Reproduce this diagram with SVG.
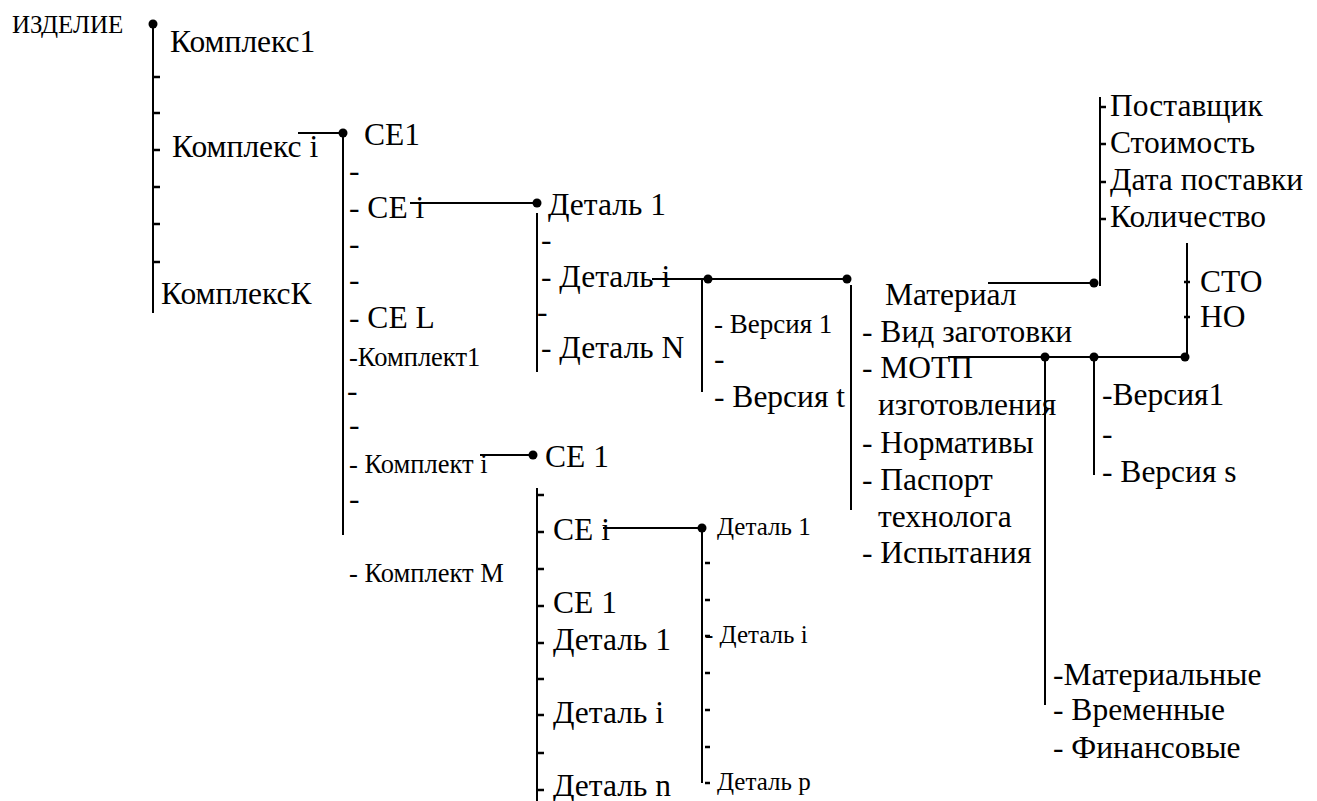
<svg xmlns="http://www.w3.org/2000/svg" width="1317" height="801" viewBox="0 0 1317 801" font-family="'Liberation Serif','Times New Roman','DejaVu Serif',serif">
<style>
text{font-family:"Liberation Serif","Times New Roman","DejaVu Serif",serif;fill:#000}
.L{font-size:31.5px}
.S{font-size:26.5px}
.M{font-size:27px}
.X{font-size:25px}
line{stroke:#000;stroke-width:2;fill:none}
.t line{stroke-width:2.5}
circle{fill:#000}
</style>
<rect width="1317" height="801" fill="#fff"/>
<g id="connectors">
<line x1="153" y1="24" x2="153" y2="313"/>
<line x1="298" y1="133" x2="343" y2="133"/>
<line x1="343" y1="133" x2="343" y2="535"/>
<line x1="410" y1="203" x2="537" y2="203"/>
<line x1="537" y1="213" x2="537" y2="372"/>
<line x1="652" y1="279" x2="847" y2="279"/>
<line x1="702" y1="279" x2="702" y2="392"/>
<line x1="851" y1="285" x2="851" y2="510"/>
<line x1="988" y1="283" x2="1094" y2="283"/>
<line x1="1100" y1="97" x2="1100" y2="286"/>
<line x1="948" y1="357" x2="1185" y2="357"/>
<line x1="1187" y1="243" x2="1187" y2="357"/>
<line x1="1045" y1="357" x2="1045" y2="705"/>
<line x1="1094" y1="357" x2="1094" y2="475"/>
<line x1="480" y1="455" x2="533" y2="455"/>
<line x1="537" y1="488" x2="537" y2="801"/>
<line x1="603" y1="528" x2="702" y2="528"/>
<line x1="702" y1="528" x2="702" y2="783"/>
<circle cx="153" cy="24" r="4.5"/>
<circle cx="343" cy="133" r="4.5"/>
<circle cx="537" cy="203" r="4.5"/>
<circle cx="708" cy="279" r="4.5"/>
<circle cx="847" cy="279" r="4.5"/>
<circle cx="1094" cy="283" r="4.5"/>
<circle cx="1045" cy="357" r="4.5"/>
<circle cx="1094" cy="357" r="4.5"/>
<circle cx="1185" cy="357" r="4.5"/>
<circle cx="533" cy="455" r="4.5"/>
<circle cx="702" cy="528" r="4.5"/>
<g class="t">
<line x1="153" y1="77" x2="160" y2="77"/>
<line x1="153" y1="113" x2="160" y2="113"/>
<line x1="153" y1="150" x2="160" y2="150"/>
<line x1="153" y1="187" x2="160" y2="187"/>
<line x1="153" y1="224" x2="160" y2="224"/>
<line x1="153" y1="262" x2="160" y2="262"/>
<line x1="1100" y1="107" x2="1106" y2="107"/>
<line x1="1100" y1="144" x2="1106" y2="144"/>
<line x1="1100" y1="182" x2="1106" y2="182"/>
<line x1="1100" y1="219" x2="1106" y2="219"/>
<line x1="1184" y1="282" x2="1190" y2="282"/>
<line x1="1184" y1="317" x2="1190" y2="317"/>
<line x1="537" y1="495" x2="544" y2="495"/>
<line x1="537" y1="532" x2="544" y2="532"/>
<line x1="537" y1="569" x2="544" y2="569"/>
<line x1="537" y1="606" x2="544" y2="606"/>
<line x1="537" y1="643" x2="544" y2="643"/>
<line x1="537" y1="679" x2="544" y2="679"/>
<line x1="537" y1="715" x2="544" y2="715"/>
<line x1="537" y1="753" x2="544" y2="753"/>
<line x1="537" y1="790" x2="544" y2="790"/>
<line x1="705" y1="563" x2="710" y2="563"/>
<line x1="705" y1="600" x2="710" y2="600"/>
<line x1="705" y1="636" x2="710" y2="636"/>
<line x1="705" y1="673" x2="710" y2="673"/>
<line x1="705" y1="710" x2="710" y2="710"/>
<line x1="705" y1="747" x2="710" y2="747"/>
<line x1="705" y1="783" x2="710" y2="783"/>
</g>
</g>
<g id="izdelie"><text class="X" x="12" y="33">ИЗДЕЛИЕ</text></g>
<g id="kompleksy">
<text class="L" x="170" y="52">Комплекс1</text>
<text class="L" x="172" y="157">Комплекс i</text>
<text class="L" x="161" y="304">КомплексК</text>
</g>
<g id="ce-list">
<text class="L" x="364" y="145">СЕ1</text>
<text class="L" x="349" y="181">-</text>
<text class="L" x="349" y="218">- СЕ i</text>
<text class="L" x="349" y="254">-</text>
<text class="L" x="349" y="290">-</text>
<text class="L" x="349" y="328">- СЕ L</text>
<text class="S" x="349" y="366">-Комплект1</text>
<text class="L" x="347" y="401">-</text>
<text class="L" x="349" y="435">-</text>
<text class="S" x="349" y="473">- Комплект i</text>
<text class="L" x="349" y="509">-</text>
<text class="S" x="349" y="582">- Комплект M</text>
</g>
<g id="detali-1">
<text class="L" x="548" y="215">Деталь 1</text>
<text class="L" x="541" y="250">-</text>
<text class="L" x="541" y="287" font-size="30">- Деталь i</text>
<text class="L" x="537" y="322">-</text>
<text class="L" x="541" y="358">- Деталь N</text>
</g>
<g id="versii-1">
<text class="M" x="714" y="333">- Версия 1</text>
<text class="L" x="714" y="369">-</text>
<text class="L" x="714" y="407">- Версия t</text>
</g>
<g id="material-list">
<text class="L" x="885" y="305">Материал</text>
<text class="L" x="862" y="342">- Вид заготовки</text>
<text class="L" x="862" y="378">- МОТП</text>
<text class="L" x="878" y="415">изготовления</text>
<text class="L" x="862" y="453">- Нормативы</text>
<text class="L" x="862" y="490">- Паспорт</text>
<text class="L" x="878" y="527">технолога</text>
<text class="L" x="862" y="563">- Испытания</text>
</g>
<g id="material-attrs">
<text class="L" x="1110" y="116">Поставщик</text>
<text class="L" x="1110" y="153">Стоимость</text>
<text class="L" x="1110" y="190">Дата поставки</text>
<text class="L" x="1110" y="227">Количество</text>
</g>
<g id="sto-no">
<text class="L" x="1200" y="292">СТО</text>
<text class="L" x="1200" y="327">НО</text>
</g>
<g id="versii-2">
<text class="L" x="1102" y="405">-Версия1</text>
<text class="L" x="1102" y="444">-</text>
<text class="L" x="1102" y="482">- Версия s</text>
</g>
<g id="normativy">
<text class="L" x="1053" y="685">-Материальные</text>
<text class="L" x="1053" y="720">- Временные</text>
<text class="L" x="1053" y="758">- Финансовые</text>
</g>
<g id="ce-list-2">
<text class="L" x="545" y="467">СЕ 1</text>
<text class="L" x="553" y="540">СЕ i</text>
<text class="L" x="553" y="613">СЕ 1</text>
<text class="L" x="553" y="650">Деталь 1</text>
<text class="L" x="553" y="723">Деталь i</text>
<text class="L" x="553" y="796">Деталь n</text>
</g>
<g id="detali-2">
<text class="X" x="717" y="535">Деталь 1</text>
<text class="X" x="705" y="643">- Деталь i</text>
<text class="X" x="717" y="790">Деталь p</text>
</g>
</svg>
